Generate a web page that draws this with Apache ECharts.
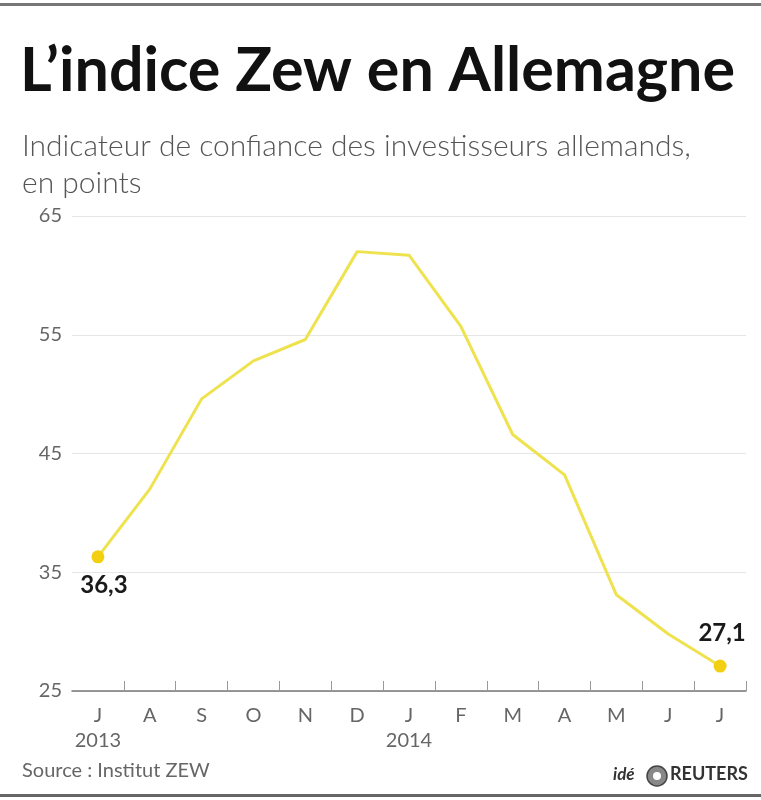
<!DOCTYPE html>
<html>
<head>
<meta charset="utf-8">
<script src="https://cdn.jsdelivr.net/npm/echarts@6/dist/echarts.min.js"></script>
<style>
  html, body { margin: 0; padding: 0; background: #fff; }
  #chart { width: 761px; height: 800px; }
</style>
</head>
<body>
<div id="chart"></div>
<script>
// mois (juillet 2013 - juillet 2014)
const mois = ['J', 'A', 'S', 'O', 'N', 'D', 'J', 'F', 'M', 'A', 'M', 'J', 'J']
const annees = ['2013', '', '', '', '', '', '2014', '', '', '', '', '', '']
const valeurs = [36.3, 42.0, 49.6, 52.8, 54.6, 62.0, 61.7, 55.7, 46.6, 43.2, 33.1, 29.8, 27.1]

const chart = echarts.init(document.getElementById('chart'))

const jaune = '#eee24e'
const or = '#f2cf10'

// points extremes avec etiquette
const points = valeurs.map((v, i) => {
  if (i === 0) {
    return { value: v, symbolSize: 13, label: { show: true, position: 'bottom', distance: 10, offset: [6, 0] } }
  }
  if (i === valeurs.length - 1) {
    return { value: v, symbolSize: 13, label: { show: true, position: 'top', distance: 14, offset: [2, 0] } }
  }
  return { value: v, symbolSize: 0 }
})

chart.setOption({
  animation: false,
  backgroundColor: '#fff',
  title: [
    {
      text: 'L\u2019indice Zew en Allemagne',
      left: 15,
      top: 36,
      textStyle: { fontFamily: 'Lato', fontWeight: 'bold', fontSize: 61, color: '#111' }
    },
    {
      text: 'Indicateur de confiance des investisseurs allemands,\nen points',
      left: 17,
      top: 123,
      textStyle: { fontFamily: 'Lato', fontWeight: 300, fontSize: 30, lineHeight: 37, color: '#555' }
    }
  ],
  grid: { left: 72, right: 15, top: 216, bottom: 109 },
  xAxis: {
    type: 'category',
    data: mois,
    boundaryGap: true,
    axisLine: { lineStyle: { color: '#777', width: 1.5 } },
    axisTick: {
      show: true,
      inside: true,
      length: 10,
      interval: (index) => index !== 0,
      lineStyle: { color: '#999' }
    },
    axisLabel: {
      interval: 0,
      margin: 12,
      fontFamily: 'Lato',
      fontSize: 20,
      lineHeight: 25,
      color: '#666',
      formatter: (v, i) => annees[i] ? v + '\n' + annees[i] : v
    }
  },
  yAxis: {
    type: 'value',
    min: 25,
    max: 65,
    interval: 10,
    axisLine: { show: false },
    axisTick: { show: false },
    axisLabel: { margin: 10, fontFamily: 'Lato', fontSize: 20, color: '#666' },
    splitLine: { lineStyle: { color: '#e6e6e6', width: 1 } }
  },
  series: [{
    type: 'line',
    data: points,
    symbol: 'circle',
    lineStyle: { color: jaune, width: 3 },
    itemStyle: { color: or },
    label: {
      fontFamily: 'Lato',
      fontWeight: 'bold',
      fontSize: 24,
      color: '#1a1a1a',
      formatter: (p) => String(p.value).replace('.', ',')
    }
  }],
  graphic: [
    { type: 'rect', shape: { x: 0, y: 3, width: 761, height: 3 }, style: { fill: '#777' } },
    { type: 'rect', shape: { x: 0, y: 794, width: 761, height: 3 }, style: { fill: '#666' } },
    {
      type: 'text', left: 22, top: 761,
      style: { text: 'Source : Institut ZEW', fontFamily: 'Lato', fontSize: 20, fill: '#666' }
    },
    {
      type: 'text', left: 613, top: 766,
      style: { text: 'idé', fontFamily: 'Lato', fontStyle: 'italic', fontWeight: 'bold', fontSize: 17, fill: '#333' }
    },
    { type: 'circle', shape: { cx: 657, cy: 776, r: 10 }, style: { fill: '#888', stroke: '#444', lineWidth: 1.5 } },
    { type: 'circle', shape: { cx: 657, cy: 776, r: 4 }, style: { fill: '#fff' } },
    {
      type: 'text', left: 670, top: 765,
      style: { text: 'REUTERS', fontFamily: 'Lato', fontWeight: 'bold', fontSize: 18, fill: '#333' }
    }
  ]
})
</script>
</body>
</html>
